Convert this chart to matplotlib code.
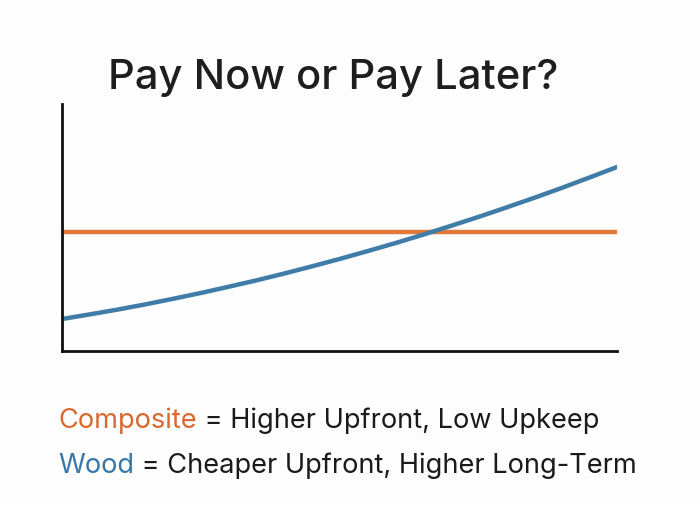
import matplotlib
matplotlib.use("Agg")
import matplotlib.pyplot as plt

# values (arbitrary cost units)
years = [0, 0.5, 1, 1.5, 2, 2.5, 3, 3.5, 4, 4.5, 5,
         5.5, 6, 6.5, 7, 7.5, 8, 8.5, 9, 9.5, 10]
wood_cost = [32, 36.6, 41.4, 46.6, 52.2, 58, 64.2, 70.6, 77.4, 84.6, 92,
             99.8, 107.8, 116.2, 125, 134, 143.4, 153, 163, 173.4, 184]
composite_cost = [119] * len(years)

ORANGE = "#E07A3A"
BLUE = "#3F7CA8"
plt.rcParams["font.family"] = ["Inter", "DejaVu Sans"]

fig = plt.figure(figsize=(7, 5.06), dpi=100)
fig.patch.set_facecolor("#FDFDFD")
ax = fig.add_axes([62 / 700, 154 / 506, 555 / 700, 247 / 506])
ax.set_facecolor("#FDFDFD")

ax.plot(years, composite_cost, color=ORANGE, lw=3.2, solid_capstyle="round")
ax.plot(years, wood_cost, color=BLUE, lw=3.2, solid_capstyle="round")

ax.set_xlim(0, 10)
ax.set_ylim(0, 247)
ax.set_xticks([])
ax.set_yticks([])
for side in ["top", "right"]:
    ax.spines[side].set_visible(False)
for side in ["left", "bottom"]:
    ax.spines[side].set_linewidth(2)
    ax.spines[side].set_color("#111111")

fig.text(333 / 700, 1 - 78 / 506, "Pay Now or Pay Later?", ha="center", va="center",
         fontsize=30, color="#1E1E1E", fontweight="medium")

t1 = fig.text(58 / 700, 1 - 428 / 506, "Composite", fontsize=19.6, color="#D9682F", va="baseline")
fig.canvas.draw()
ax.annotate(" = Higher Upfront, Low Upkeep", xy=(1, 0), xycoords=t1, va="bottom",
            fontsize=19.6, color="#1A1A1A")
t2 = fig.text(58 / 700, 1 - 473 / 506, "Wood", fontsize=19.6, color="#3A76A6", va="baseline")
ax.annotate(" = Cheaper Upfront, Higher Long-Term", xy=(1, 0), xycoords=t2, va="bottom",
            fontsize=19.6, color="#1A1A1A")

fig.savefig("out.png", dpi=100, facecolor=fig.get_facecolor())
